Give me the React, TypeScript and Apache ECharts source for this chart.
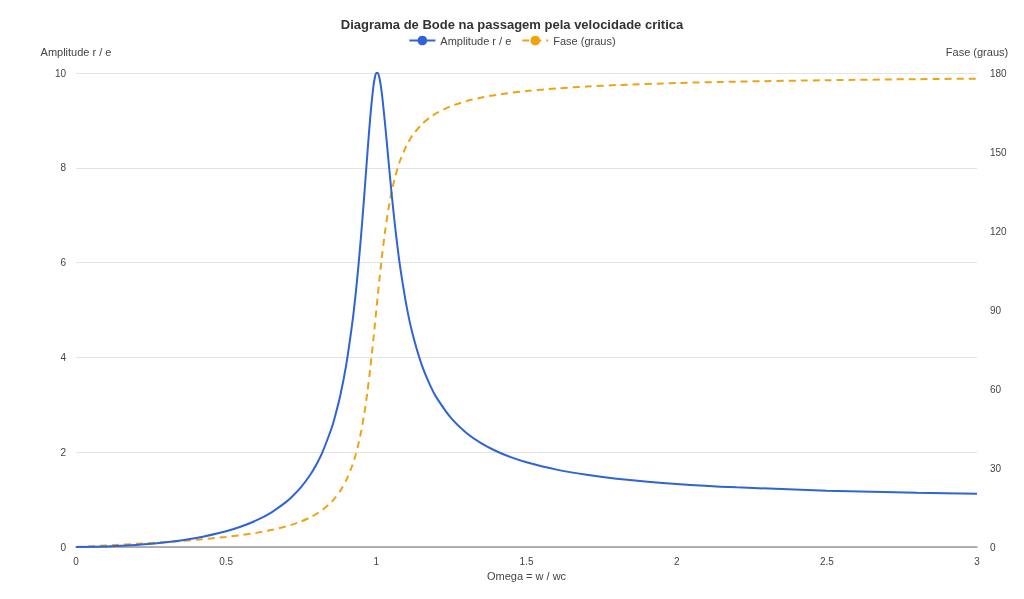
import React, { useEffect, useRef } from "react";
import * as echarts from "echarts";

const omega = [0, 0.1, 0.2, 0.3, 0.4, 0.5, 0.55, 0.6, 0.65, 0.7, 0.72, 0.75, 0.78, 0.8, 0.82, 0.85, 0.86, 0.88, 0.9, 0.92, 0.93, 0.94, 0.95, 0.96, 0.97, 0.98, 0.99, 0.995, 1.0, 1.005, 1.01, 1.015, 1.02, 1.03, 1.04, 1.05, 1.06, 1.07, 1.08, 1.1, 1.12, 1.15, 1.18, 1.2, 1.25, 1.3, 1.35, 1.4, 1.45, 1.5, 1.6, 1.7, 1.8, 2.0, 2.2, 2.5, 2.8, 3.0];
const amplitude = [0, 0.0101, 0.0417, 0.0989, 0.1903, 0.3326, 0.4323, 0.56, 0.727, 0.9519, 1.0646, 1.2672, 1.5237, 1.7355, 1.9911, 2.4894, 2.697, 3.1979, 3.8528, 4.7273, 5.2732, 5.9057, 6.6297, 7.4354, 8.2835, 9.0865, 9.7059, 9.9003, 10.0, 10.0, 9.9058, 9.7278, 9.4832, 8.866, 8.1821, 7.5133, 6.9005, 6.356, 5.8797, 5.104, 4.5128, 3.8625, 3.3981, 3.1574, 2.7116, 2.4069, 2.1865, 2.0203, 1.8907, 1.7872, 1.6325, 1.5229, 1.4418, 1.3304, 1.2583, 1.1891, 1.1452, 1.1242];
const fase = [0, 0.58, 1.19, 1.89, 2.73, 3.81, 4.51, 5.36, 6.42, 7.82, 8.5, 9.73, 11.26, 12.53, 14.05, 17.03, 18.27, 21.3, 25.38, 30.95, 34.54, 38.93, 44.26, 50.75, 58.64, 67.99, 78.63, 84.28, 90.0, 95.7, 101.26, 106.58, 111.61, 120.59, 128.12, 134.31, 139.39, 143.56, 147.0, 152.35, 156.24, 160.37, 163.26, 164.74, 167.47, 169.33, 170.68, 171.7, 172.51, 173.16, 174.14, 174.86, 175.41, 176.19, 176.72, 177.27, 177.66, 177.85];

const leftTicks = { min: 0, max: 10, interval: 2 };
const rightTicks = { min: 0, max: 180, interval: 30 };
const xTicks = { min: 0, max: 3, interval: 0.5 };

const FONT = "'Liberation Sans', Arial, sans-serif";

export default function App() {
  const ref = useRef<HTMLDivElement>(null);
  useEffect(() => {
    if (!ref.current) return;
    const chart = echarts.init(ref.current, undefined, { renderer: "svg" });
    chart.setOption({
      animation: false,
      textStyle: { fontFamily: FONT },
      title: {
        text: "Diagrama de Bode na passagem pela velocidade critica",
        left: "center",
        top: 13,
        textStyle: { fontSize: 13, fontWeight: "bold", color: "#333", fontFamily: FONT },
      },
      legend: {
        top: 30,
        left: "center",
        itemWidth: 26,
        itemHeight: 12,
        itemGap: 10,
        textStyle: { fontSize: 11, color: "#444", fontFamily: FONT },
        data: ["Amplitude r / e", "Fase (graus)"],
      },
      grid: { left: 76, right: 47, top: 73, bottom: 52, containLabel: false },
      xAxis: {
        type: "value",
        min: xTicks.min,
        max: xTicks.max,
        interval: xTicks.interval,
        name: "Omega = w / wc",
        nameLocation: "middle",
        nameGap: 20,
        nameTextStyle: { fontSize: 11, color: "#444" },
        axisLine: { show: true, onZero: false, lineStyle: { color: "#999", width: 1.5 } },
        axisTick: { show: false },
        splitLine: { show: false },
        axisLabel: { fontSize: 10, color: "#444", margin: 9 },
      },
      yAxis: [
        {
          type: "value",
          min: leftTicks.min,
          max: leftTicks.max,
          interval: leftTicks.interval,
          name: "Amplitude r / e",
          nameGap: 16,
          nameTextStyle: { fontSize: 11, color: "#444", align: "center" },
          axisLine: { show: false },
          axisTick: { show: false },
          splitLine: { show: true, lineStyle: { color: "#e3e3e3", width: 1 } },
          axisLabel: { fontSize: 10, color: "#444", margin: 10 },
        },
        {
          type: "value",
          min: rightTicks.min,
          max: rightTicks.max,
          interval: rightTicks.interval,
          name: "Fase (graus)",
          nameGap: 16,
          nameTextStyle: { fontSize: 11, color: "#444", align: "center" },
          axisLine: { show: false },
          axisTick: { show: false },
          splitLine: { show: false },
          axisLabel: { fontSize: 10, color: "#444", margin: 13 },
        },
      ],
      series: [
        {
          name: "Amplitude r / e",
          type: "line",
          yAxisIndex: 0,
          smooth: 0.25,
          symbol: "circle",
          symbolSize: 10,
          showSymbol: false,
          data: omega.map((x, i) => [x, amplitude[i]]),
          lineStyle: { color: "#2f63d6", width: 2 },
          itemStyle: { color: "#2f63d6" },
          z: 3,
        },
        {
          name: "Fase (graus)",
          type: "line",
          yAxisIndex: 1,
          smooth: 0.25,
          symbol: "circle",
          symbolSize: 10,
          showSymbol: false,
          data: omega.map((x, i) => [x, fase[i]]),
          lineStyle: { color: "#eda414", width: 2, type: [7, 5] },
          itemStyle: { color: "#f2a20d" },
          z: 2,
        },
      ],
    });
    return () => chart.dispose();
  }, []);
  return (
    <div
      ref={ref}
      style={{ position: "fixed", left: 0, top: 0, width: 1024, height: 599 }}
    />
  );
}
